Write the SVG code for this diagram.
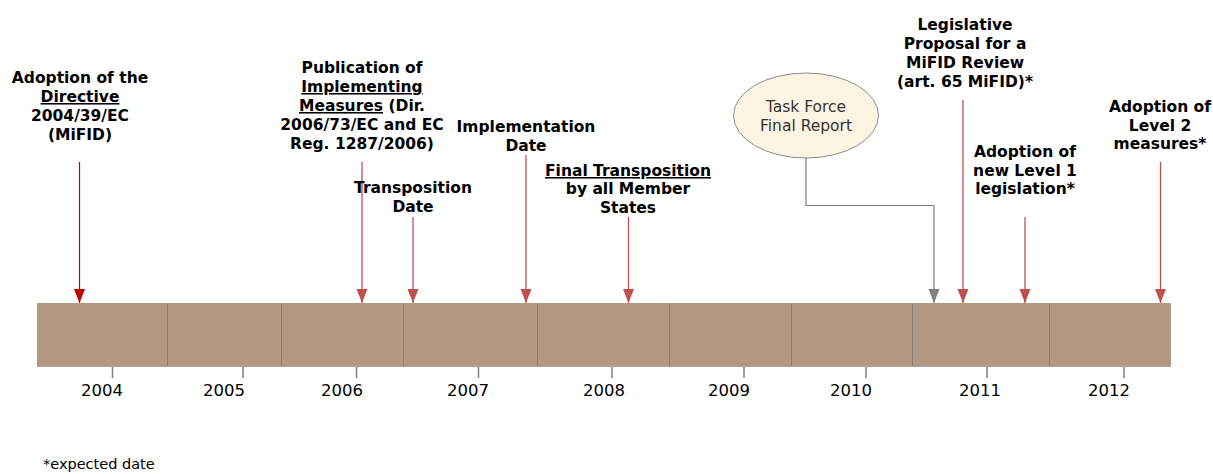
<svg xmlns="http://www.w3.org/2000/svg" width="1213" height="474" viewBox="0 0 1213 474">
<style>
.lbl{font-family:"DejaVu Sans",Verdana,sans-serif;font-weight:bold;font-size:15.5px;fill:#000;text-anchor:middle}
.u{text-decoration:underline}
.yr{font-family:"DejaVu Sans",Tahoma,sans-serif;font-size:16.5px;fill:#000;text-anchor:middle}
.ell{font-family:"DejaVu Sans",Tahoma,sans-serif;font-size:15.5px;fill:#333;text-anchor:middle}
.div{stroke:#808080;stroke-width:1}
.tick{stroke:#808080;stroke-width:1.5}
.arr{stroke:#C0504D;stroke-width:1.3;fill:none;marker-end:url(#mr)}
.arr0{stroke:#C00000;stroke-width:1.2;fill:none;marker-end:url(#md)}
.gcon{stroke:#808080;stroke-width:1.2;fill:none;marker-end:url(#mg)}
</style>
<defs>
<marker id="mr" markerUnits="userSpaceOnUse" markerWidth="14" markerHeight="12" refX="14" refY="5.5" orient="auto"><path d="M0,0 L14,5.5 L0,11 Z" fill="#C0504D"/></marker>
<marker id="md" markerUnits="userSpaceOnUse" markerWidth="14" markerHeight="12" refX="14" refY="5.5" orient="auto"><path d="M0,0 L14,5.5 L0,11 Z" fill="#C00000"/></marker>
<marker id="mg" markerUnits="userSpaceOnUse" markerWidth="14" markerHeight="12" refX="14" refY="5.5" orient="auto"><path d="M0,0 L14,5.5 L0,11 Z" fill="#808080"/></marker>
</defs>
<rect width="1213" height="474" fill="#fff"/>

<g id="timeline">
<rect x="37" y="303" width="1134" height="63" fill="#B59882"/>
<line x1="37" y1="366.5" x2="1171" y2="366.5" stroke="#A6A6A6" stroke-width="1"/>
<line class="div" x1="167.5" y1="303" x2="167.5" y2="366"/>
<line class="div" x1="281.5" y1="303" x2="281.5" y2="366"/>
<line class="div" x1="403.5" y1="303" x2="403.5" y2="366"/>
<line class="div" x1="537.5" y1="303" x2="537.5" y2="366"/>
<line class="div" x1="669.5" y1="303" x2="669.5" y2="366"/>
<line class="div" x1="791.5" y1="303" x2="791.5" y2="366"/>
<line class="div" x1="912.5" y1="303" x2="912.5" y2="366"/>
<line class="div" x1="1049.5" y1="303" x2="1049.5" y2="366"/>
<line class="tick" x1="112.5" y1="367" x2="112.5" y2="378"/>
<line class="tick" x1="243" y1="367" x2="243" y2="378"/>
<line class="tick" x1="356.5" y1="367" x2="356.5" y2="378"/>
<line class="tick" x1="478.5" y1="367" x2="478.5" y2="378"/>
<line class="tick" x1="612" y1="367" x2="612" y2="378"/>
<line class="tick" x1="744" y1="367" x2="744" y2="378"/>
<line class="tick" x1="866" y1="367" x2="866" y2="378"/>
<line class="tick" x1="987" y1="367" x2="987" y2="378"/>
<line class="tick" x1="1124" y1="367" x2="1124" y2="378"/>
<text class="yr" x="102" y="396">2004</text>
<text class="yr" x="224" y="396">2005</text>
<text class="yr" x="342" y="396">2006</text>
<text class="yr" x="468" y="396">2007</text>
<text class="yr" x="604" y="396">2008</text>
<text class="yr" x="729" y="396">2009</text>
<text class="yr" x="851" y="396">2010</text>
<text class="yr" x="980" y="396">2011</text>
<text class="yr" x="1109" y="396">2012</text>
</g>

<g id="connectors">
<line class="arr0" x1="79.5" y1="162" x2="79.5" y2="303"/>
<line class="arr" x1="362" y1="162" x2="362" y2="303"/>
<line class="arr" x1="413" y1="217" x2="413" y2="303"/>
<line class="arr" x1="526" y1="155" x2="526" y2="303"/>
<line class="arr" x1="628.5" y1="217" x2="628.5" y2="303"/>
<polyline class="gcon" points="806,158 806,205.5 934,205.5 934,303"/>
<line class="arr" x1="963" y1="100" x2="963" y2="303"/>
<line class="arr" x1="1025" y1="217" x2="1025" y2="303"/>
<line class="arr" x1="1160.5" y1="162" x2="1160.5" y2="303"/>
</g>

<g id="n-adoption-directive">
<text class="lbl" x="80" y="83">Adoption of the</text>
<text class="lbl" x="80" y="102"><tspan class="u">Directive</tspan></text>
<text class="lbl" x="80" y="121">2004/39/EC</text>
<text class="lbl" x="80" y="140">(MiFID)</text>
</g>

<g id="n-publication">
<text class="lbl" x="362" y="73">Publication of</text>
<text class="lbl" x="362" y="92"><tspan class="u">Implementing</tspan></text>
<text class="lbl" x="362" y="111"><tspan class="u">Measures</tspan> (Dir.</text>
<text class="lbl" x="362" y="130">2006/73/EC and EC</text>
<text class="lbl" x="362" y="149">Reg. 1287/2006)</text>
</g>

<g id="n-transposition">
<text class="lbl" x="413" y="193">Transposition</text>
<text class="lbl" x="413" y="212">Date</text>
</g>

<g id="n-implementation">
<text class="lbl" x="526" y="132">Implementation</text>
<text class="lbl" x="526" y="151">Date</text>
</g>

<g id="n-final-transposition">
<text class="lbl" x="628" y="176"><tspan class="u">Final Transposition</tspan></text>
<text class="lbl" x="628" y="194">by all Member</text>
<text class="lbl" x="628" y="213">States</text>
</g>

<g id="n-task-force">
<ellipse cx="806" cy="115.5" rx="72.5" ry="42.5" fill="#FDF5E1" stroke="#8C8C8C" stroke-width="1"/>
<text class="ell" x="806" y="112">Task Force</text>
<text class="ell" x="806" y="131">Final Report</text>
</g>

<g id="n-legislative-proposal">
<text class="lbl" x="965" y="30">Legislative</text>
<text class="lbl" x="965" y="49">Proposal for a</text>
<text class="lbl" x="965" y="68">MiFID Review</text>
<text class="lbl" x="965" y="87">(art. 65 MiFID)*</text>
</g>

<g id="n-level1">
<text class="lbl" x="1025" y="157">Adoption of</text>
<text class="lbl" x="1025" y="176">new Level 1</text>
<text class="lbl" x="1025" y="194">legislation*</text>
</g>

<g id="n-level2">
<text class="lbl" x="1160" y="112">Adoption of</text>
<text class="lbl" x="1160" y="131">Level 2</text>
<text class="lbl" x="1160" y="149">measures*</text>
</g>

<g id="footnote">
<text x="43" y="469" font-family="'DejaVu Sans',Tahoma,sans-serif" font-size="14.5px" fill="#000">*expected date</text>
</g>
</svg>
